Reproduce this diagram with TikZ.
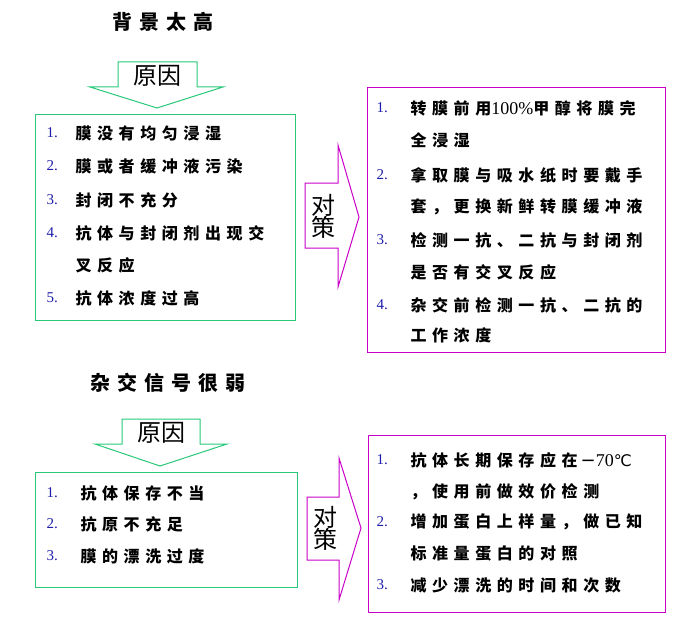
\documentclass[tikz,border=0pt]{standalone}
\usepackage{fontspec}
\setmainfont{Liberation Serif}
\newfontfamily\cjk{Noto Sans CJK SC}
\newfontfamily\cjksp{Noto Sans CJK SC}[LetterSpace=35]
\newfontfamily\symfont{DejaVu Sans}
\newcommand\cjkb{\cjksp\bfseries}
\usetikzlibrary{positioning}
\definecolor{boxgreen}{RGB}{40,200,120}
\definecolor{boxpink}{RGB}{200,0,200}
\definecolor{numblue}{RGB}{30,30,170}
\tikzset{
  item/.style={anchor=west, font=\cjkb\fontsize{16}{18}\selectfont, inner sep=0pt},
  num/.style={anchor=west, font=\fontsize{15}{17}\selectfont, text=numblue, inner sep=0pt},
  title/.style={font=\cjkb\fontsize{20}{22}\selectfont},
  biglabel/.style={font=\cjk\fontsize{24}{26}\selectfont}
}
\begin{document}
\begin{tikzpicture}[x=1pt,y=-1pt,line width=1pt]
\useasboundingbox (0,0) rectangle (694,626);

% first block
\node (title1) [title] at (163,22) {背景太高};
\draw[boxgreen] (118,62) -- (197,62) -- (197,87) -- (223,87) -- (157,108) -- (90,87) -- (118,87) -- cycle;
\node (cause1) [biglabel] at (157,76) {原因};
\draw[boxgreen] (35,114) rectangle (295,320);
\foreach \n/\t/\y in {1/膜没有均匀浸湿/133, 2/膜或者缓冲液污染/166, 3/封闭不充分/200, 4/抗体与封闭剂出现交/233, 5/抗体浓度过高/298}
{
  \node (n\n) [num] at (46,\y) {\n.};
  \node (c\n) [item] at (75,\y) {\t};
}
\node (c4b) [item] at (75,265) {叉反应};

\draw[boxpink] (305,183) -- (338,183) -- (338,145) -- (359,217) -- (338,287) -- (338,248) -- (305,248) -- cycle;
\node (fix1) [biglabel, align=center] at (323,216) {对\\[-4pt]策};
\draw[boxpink] (367,88) rectangle (665,352);
\foreach \n/\y in {1/108, 2/175, 3/240, 4/305}
  \node (m\n) [num] at (376,\y) {\n.};
\node (r1) [item] at (410,108) {转膜前用{\fontspec{Liberation Serif}\mdseries\fontsize{18}{19}\selectfont 100\%}甲醇将膜完};
\node (r1b) [item] at (410,140) {全浸湿};
\node (r2) [item] at (410,175) {拿取膜与吸水纸时要戴手};
\node (r2b) [item] at (410,207) {套，更换新鲜转膜缓冲液};
\node (r3) [item] at (410,240) {检测一抗、二抗与封闭剂};
\node (r3b) [item] at (410,272) {是否有交叉反应};
\node (r4) [item] at (410,305) {杂交前检测一抗、二抗的};
\node (r4b) [item] at (410,335) {工作浓度};

% second block
\node (title2) [title] at (168,383) {杂交信号很弱};
\draw[boxgreen] (122,419) -- (200,419) -- (200,444) -- (227,444) -- (160,466) -- (95,444) -- (122,444) -- cycle;
\node (cause2) [biglabel] at (161,433) {原因};
\draw[boxgreen] (35,472) rectangle (297,587);
\foreach \n/\t/\y in {1/抗体保存不当/493, 2/抗原不充足/524, 3/膜的漂洗过度/556}
{
  \node (p\n) [num] at (46,\y) {\n.};
  \node (d\n) [item] at (80,\y) {\t};
}

\draw[boxpink] (307,497) -- (339,497) -- (339,458) -- (361,528) -- (339,600) -- (339,560) -- (307,560) -- cycle;
\node (fix2) [biglabel, align=center] at (325,528) {对\\[-4pt]策};
\draw[boxpink] (368,435) rectangle (665,612);
\foreach \n/\y in {1/460, 2/522, 3/585}
  \node (q\n) [num] at (376,\y) {\n.};
\node (s1) [item] at (410,460) {抗体长期保存应在{\symfont\mdseries\fontsize{18}{19}\selectfont\,−}{\fontspec{Liberation Serif}\mdseries\fontsize{18}{19}\selectfont 70}{\symfont\mdseries\fontsize{16}{18}\selectfont ℃}};
\node (s1b) [item] at (410,492) {，使用前做效价检测};
\node (s2) [item] at (410,522) {增加蛋白上样量，做已知};
\node (s2b) [item] at (410,553) {标准量蛋白的对照};
\node (s3) [item] at (410,585) {减少漂洗的时间和次数};
\end{tikzpicture}
\end{document}
